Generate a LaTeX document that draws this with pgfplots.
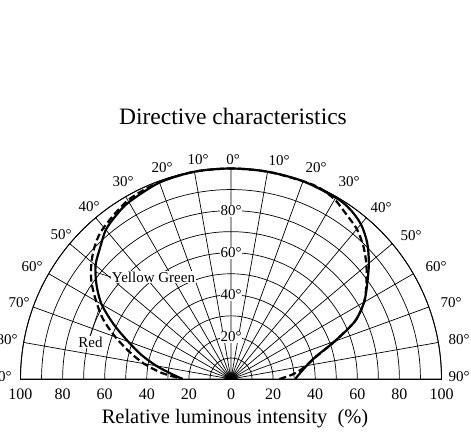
\documentclass[border=0pt]{standalone}
\usepackage{fontspec}
\setmainfont{Liberation Serif}
\usepackage{pgfplots}
\pgfplotsset{compat=1.18}
\usepgfplotslibrary{polar}
\begin{document}
\begin{tikzpicture}
\begin{polaraxis}[
  scale only axis, width=421pt,
  xmin=0, xmax=180, ymin=0, ymax=100,
  xtick={0,10,...,180}, xticklabels={},
  ytick={10,20,...,100}, yticklabels={},
  grid=major, major grid style={black, line width=0.7pt},
  axis line style={black, line width=0.9pt},
  major tick length=0pt,
  clip=false,
]
\coordinate (c) at (axis cs:0,0);
% Yellow Green (solid)
\addplot[black, line width=2.2pt, smooth, tension=0.5] coordinates {
(0,30.5) (5,33) (10,36.5) (15,42) (20,52.5) (25,65) (30,73) (35,79) (40,85.5) (45,91.5)
(50,96) (55,98.5) (60,99.5) (70,100) (80,100) (90,100) (100,100) (110,99.3) (120,97)
(125,95) (130,92.5) (135,88) (140,84) (145,78) (150,71) (155,61.5) (160,52) (165,44)
(170,36) (175,28.5) (180,23)
};
% Red (dashed)
\addplot[black, line width=2.2pt, dash pattern=on 7pt off 3.5pt, smooth, tension=0.5] coordinates {
(0,23) (4,29) (8,34) (13,39.5) (16,44) (20,52.5) (25,65) (30,73) (35,78.5) (40,84) (45,89)
(50,93) (55,95.5) (60,98.5) (65,100) (70,100) (80,100) (90,100) (100,100) (110,99.5)
(120,98) (130,94) (135,91) (140,86.5) (145,81) (150,74) (155,67) (160,58.5) (165,50)
(170,42) (175,33) (180,23)
};
\node[fill=white, inner sep=1pt, font=\fontsize{15}{18}\selectfont] at (axis cs:90,20) {20°};
\node[fill=white, inner sep=1pt, font=\fontsize{15}{18}\selectfont] at (axis cs:90,40) {40°};
\node[fill=white, inner sep=1pt, font=\fontsize{15}{18}\selectfont] at (axis cs:90,60) {60°};
\node[fill=white, inner sep=1pt, font=\fontsize{15}{18}\selectfont] at (axis cs:90,80) {80°};
\end{polaraxis}
\foreach \t/\x/\y in {0°/2/219, 10°/-33/219, 10°/48/218, 20°/-69/211, 20°/85/211,
  30°/-108/197, 30°/118/197, 40°/-142/172, 40°/150/171, 50°/-170/144, 50°/180/143,
  60°/-199/112, 60°/205/112, 70°/-212/76, 70°/220/76, 80°/-224/39, 80°/228/39,
  90°/-230/2, 90°/228/2}{
  \node[inner sep=0pt, font=\fontsize{15}{18}\selectfont] at ([shift={(\x pt,\y pt)}]c) {\t};
}
\foreach \v/\d in {20/42.1,40/84.2,60/126.3,80/168.4,100/210.5}{
  \node[anchor=north, inner sep=2pt, yshift=-8pt, font=\fontsize{16}{18}\selectfont] at ([shift={(\d pt,0pt)}]c) {\v};
  \node[anchor=north, inner sep=2pt, yshift=-8pt, font=\fontsize{16}{18}\selectfont] at ([shift={(-\d pt,0pt)}]c) {\v};
}
\node[anchor=north, inner sep=2pt, yshift=-8pt, font=\fontsize{16}{18}\selectfont] at (c) {0};
\node[fill=white, inner sep=1pt, font=\fontsize{15}{18}\selectfont] (yg) at ([shift={(-77.5pt,102pt)}]c) {Yellow Green};
\draw[line width=0.6pt] ([shift={(-136pt,107pt)}]c) -- (yg.west);
\node[fill=white, inner sep=1pt, font=\fontsize{15}{18}\selectfont] (rd) at ([shift={(-140.5pt,37pt)}]c) {Red};
\draw[line width=0.6pt] ([shift={(-132pt,70pt)}]c) -- (rd.north);
\node[anchor=base, font=\fontsize{20.5}{24}\selectfont] at ([shift={(4pt,-44pt)}]c) {Relative luminous intensity\ \ (\%)};
\node[anchor=base, font=\fontsize{23.5}{28}\selectfont] at ([shift={(2pt,254pt)}]c) {Directive characteristics};
\pgfresetboundingbox
\useasboundingbox ([shift={(-231pt,-52pt)}]c) rectangle ([shift={(240pt,379pt)}]c);
\end{tikzpicture}
\end{document}
